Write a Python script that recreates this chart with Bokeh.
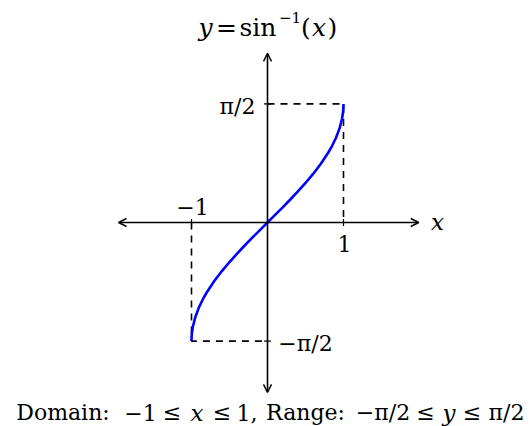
from bokeh.plotting import figure
from bokeh.models import Label, Arrow, OpenHead, Range1d
from bokeh.embed import file_html
from bokeh.resources import INLINE

# curve data: y = arcsin(x)
curve_x = [-1.0, -0.999, -0.995, -0.99, -0.98, -0.95, -0.9, -0.85, -0.8, -0.7, -0.6, -0.5, -0.4, -0.3, -0.2, -0.1,
           0.0, 0.1, 0.2, 0.3, 0.4, 0.5, 0.6, 0.7, 0.8, 0.85, 0.9, 0.95, 0.98, 0.99, 0.995, 0.999, 1.0]
curve_y = [-1.5708, -1.5260, -1.4706, -1.4293, -1.3705, -1.2532, -1.1198, -1.0160, -0.9273, -0.7754, -0.6435,
           -0.5236, -0.4115, -0.3047, -0.2014, -0.1002,
           0.0, 0.1002, 0.2014, 0.3047, 0.4115, 0.5236, 0.6435, 0.7754, 0.9273, 1.0160, 1.1198, 1.2532, 1.3705,
           1.4293, 1.4706, 1.5260, 1.5708]

half_pi = 1.5708
x_ticks = [-1, 1]
y_ticks = [-half_pi, half_pi]
x_axis_extent = [-1.96, 1.99]
y_axis_extent = [-2.25, 2.24]

dash_left_x = [-1, -1, 0]
dash_left_y = [0, -half_pi, -half_pi]
dash_right_x = [0, 1, 1]
dash_right_y = [half_pi, half_pi, 0]

W, H = 530, 426
SX, SY = 76.0, 75.5          # pixels per unit
OX, OY = 267, 222            # origin in pixels
BASE_FIX = 7                 # renderer places alphabetic baseline lower than asked

p = figure(width=W, height=H, output_backend="svg", toolbar_location=None,
           x_range=Range1d(-OX / SX, (W - OX) / SX),
           y_range=Range1d(-(H - OY) / SY, OY / SY),
           x_axis_location=None, y_axis_location=None, min_border=0)
p.grid.visible = False
p.outline_line_color = None
p.background_fill_color = "white"
p.border_fill_color = "white"

FONT = "DejaVu Serif"

# axes with arrows
for xs, ys, xe, ye in [(x_axis_extent[0], 0, x_axis_extent[1], 0), (0, y_axis_extent[0], 0, y_axis_extent[1])]:
    p.add_layout(Arrow(start=OpenHead(size=8, line_width=1.4), end=OpenHead(size=8, line_width=1.4),
                       x_start=xs, y_start=ys, x_end=xe, y_end=ye,
                       line_width=1.6, line_color="black"))

# ticks
tk = 3.5 / SX
p.segment(x0=x_ticks, y0=[-tk] * 2, x1=x_ticks, y1=[tk] * 2, line_color="black", line_width=1.2)
p.segment(x0=[-tk] * 2, y0=y_ticks, x1=[tk] * 2, y1=y_ticks, line_color="black", line_width=1.2)

# dashed guides
p.line(dash_left_x, dash_left_y, line_dash="7 6", line_color="black", line_width=1.6)
p.line(dash_right_x, dash_right_y, line_dash="7 6", line_color="black", line_width=1.6)

# curve
p.line(curve_x, curve_y, line_color="#0000ff", line_width=2.6)


def put(text, cx, base, size=22, style="normal", align="center"):
    b = base - BASE_FIX
    p.add_layout(Label(x=(cx - OX) / SX, y=(OY - b) / SY, text=text,
                       text_align=align, text_baseline="alphabetic",
                       text_font=FONT, text_font_size=f"{size}px", text_font_style=style,
                       text_color="black"))


# title: y = sin^-1(x)
put("y", 205, 34, 25, "italic")
put("=", 226, 34, 25)
put("sin", 257.5, 34, 25)
put("−1", 289.5, 24, 15)
put("(", 305.5, 34, 25)
put("x", 318.5, 34, 25, "italic")
put(")", 332, 34, 25)

# axis labels
put("π/2", 237, 113)
put("−1", 192, 213)
put("1", 344, 250)
put("x", 437, 228, 23, "italic")
put("−π/2", 305, 350)

# caption: Domain: -1 <= x <= 1, Range: -pi/2 <= y <= pi/2
CB = 419
put("Domain:", 62.5, CB)
put("−1", 140, CB)
put("≤", 171.5, CB)
put("x", 196.5, CB, 23, "italic")
put("≤", 221.5, CB)
put("1,", 246.5, CB)
put("Range:", 305, CB)
put("−π/2", 382.5, CB)
put("≤", 425, CB)
put("y", 448.5, CB, 23, "italic")
put("≤", 471.5, CB)
put("π/2", 506, CB)

open("out.html", "w").write(file_html(p, INLINE))
